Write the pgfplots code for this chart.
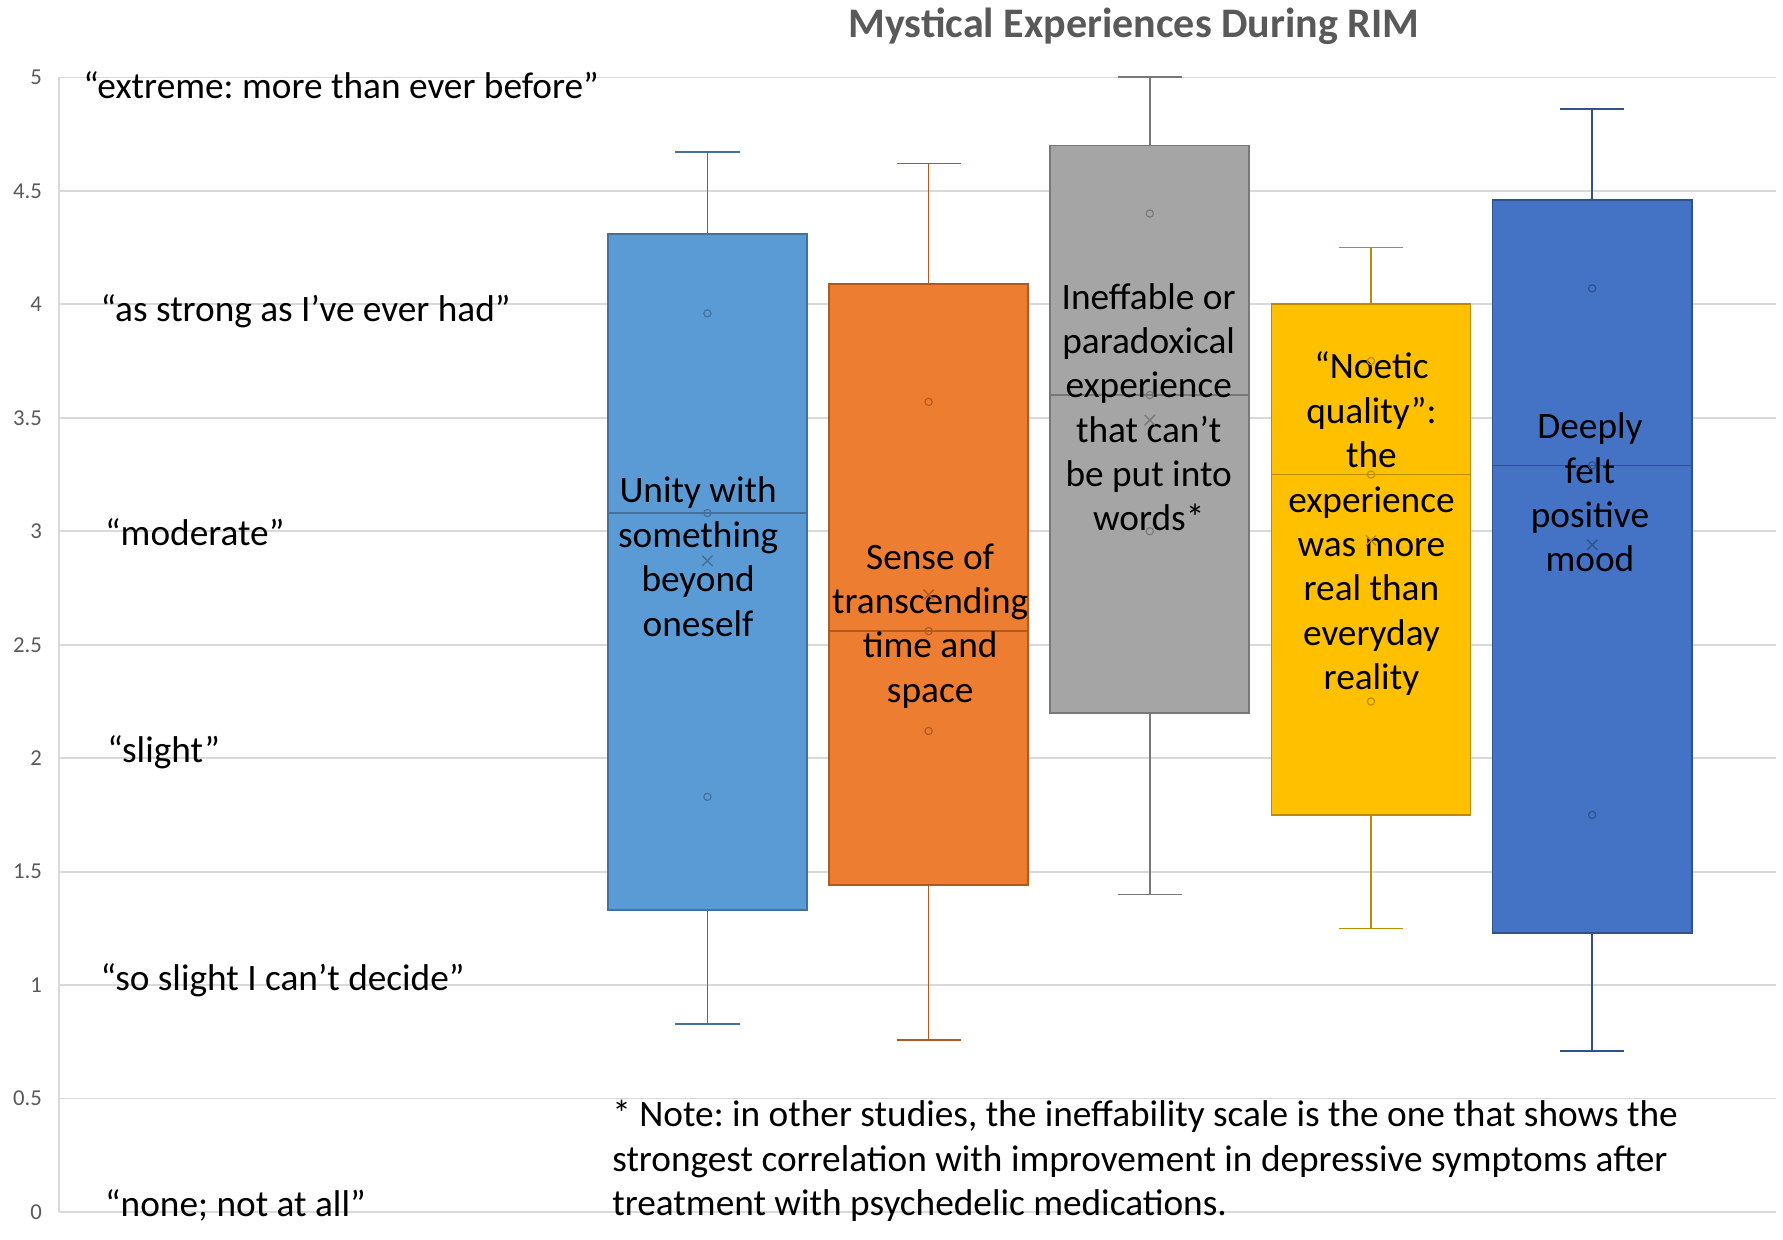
\documentclass[border=0pt]{standalone}
\usepackage{fontspec}
\setmainfont{Carlito}
\usepackage{pgfplots}
\pgfplotsset{compat=1.18}
\usepgfplotslibrary{statistics}
\definecolor{c1}{HTML}{5B9BD5}\definecolor{c1d}{HTML}{41719C}
\definecolor{c2}{HTML}{ED7D31}\definecolor{c2d}{HTML}{AE5A21}
\definecolor{c3}{HTML}{A5A5A5}\definecolor{c3d}{HTML}{787878}
\definecolor{c4}{HTML}{FFC000}\definecolor{c4d}{HTML}{BC8C00}
\definecolor{c5}{HTML}{4472C4}\definecolor{c5d}{HTML}{2F528F}
\definecolor{gridgray}{HTML}{D9D9D9}
\definecolor{tickgray}{HTML}{595959}
\frenchspacing
\begin{document}
\begin{tikzpicture}
\useasboundingbox (0,0) rectangle (784pt,545pt);
\begin{axis}[at={(26pt,12pt)}, anchor=south west, scale only axis,
  width=755pt, height=499pt,
  xmin=-1.931, xmax=5.832, ymin=0, ymax=5,
  axis x line=none, axis y line*=left,
  y axis line style={-, draw=gridgray, line width=0.7pt},
  xtick=\empty,
  ytick={0,0.5,1,1.5,2,2.5,3,3.5,4,4.5,5},
  yticklabels={0,0.5,1,1.5,2,2.5,3,3.5,4,4.5,5},
  major tick length=0pt, ymajorgrids,
  grid style={draw=gridgray, line width=0.7pt},
  yticklabel style={font=\fontsize{10}{12}\selectfont, text=tickgray, xshift=-4pt},
  clip=false,
  boxplot/draw direction=y,
  boxplot/box extend=0.9, boxplot/whisker extend=0.29]
% boxes
\addplot[boxplot prepared={draw position=1, lower whisker=0.83, lower quartile=1.33, median=3.08, upper quartile=4.31, upper whisker=4.67}, draw=c1d, fill=c1, line width=0.75pt] coordinates {};
\addplot[boxplot prepared={draw position=2, lower whisker=0.76, lower quartile=1.44, median=2.56, upper quartile=4.09, upper whisker=4.62}, draw=c2d, fill=c2, line width=0.75pt] coordinates {};
\addplot[boxplot prepared={draw position=3, lower whisker=1.40, lower quartile=2.20, median=3.60, upper quartile=4.70, upper whisker=5.00}, draw=c3d, fill=c3, line width=0.75pt] coordinates {};
\addplot[boxplot prepared={draw position=4, lower whisker=1.25, lower quartile=1.75, median=3.25, upper quartile=4.00, upper whisker=4.25}, draw=c4d, fill=c4, line width=0.75pt] coordinates {};
\addplot[boxplot prepared={draw position=5, lower whisker=0.71, lower quartile=1.23, median=3.29, upper quartile=4.46, upper whisker=4.86}, draw=c5d, fill=c5, line width=0.75pt] coordinates {};
% inner points
\addplot[only marks, mark=o, mark size=1.6pt, draw=c1d, line width=0.5pt] coordinates {(1,3.96) (1,3.08) (1,1.83)};
\addplot[only marks, mark=o, mark size=1.6pt, draw=c2d, line width=0.5pt] coordinates {(2,3.57) (2,2.56) (2,2.12)};
\addplot[only marks, mark=o, mark size=1.6pt, draw=c3d, line width=0.5pt] coordinates {(3,4.40) (3,3.60) (3,3.00)};
\addplot[only marks, mark=o, mark size=1.6pt, draw=c4d, line width=0.5pt] coordinates {(4,3.75) (4,3.25) (4,2.25)};
\addplot[only marks, mark=o, mark size=1.6pt, draw=c5d, line width=0.5pt] coordinates {(5,4.07) (5,3.29) (5,1.75)};
% means
\addplot[only marks, mark=x, mark size=3.2pt, draw=c1d, line width=0.6pt] coordinates {(1,2.87)};
\addplot[only marks, mark=x, mark size=3.2pt, draw=c2d, line width=0.6pt] coordinates {(2,2.72)};
\addplot[only marks, mark=x, mark size=3.2pt, draw=c3d, line width=0.6pt] coordinates {(3,3.49)};
\addplot[only marks, mark=x, mark size=3.2pt, draw=c4d, line width=0.6pt] coordinates {(4,2.96)};
\addplot[only marks, mark=x, mark size=3.2pt, draw=c5d, line width=0.6pt] coordinates {(5,2.94)};
% box texts
\begin{scope}[every node/.style={align=center, inner sep=0pt, font=\fontsize{16.4}{19.5}\selectfont}]
\node at (axis cs:0.958,2.888) {Unity with\\something\\beyond\\oneself};
\node at (axis cs:2.007,2.583) {Sense of\\transcending\\time and\\space};
\node at (axis cs:2.995,3.547) {Ineffable or\\paradoxical\\experience\\that can’t\\be put into\\words*};
\node at (axis cs:4.002,3.033) {“Noetic\\quality”:\\the\\experience\\was more\\real than\\everyday\\reality};
\node at (axis cs:4.990,3.171) {Deeply\\felt\\positive\\mood};
\end{scope}
% scale annotations
\begin{scope}[every node/.style={anchor=west, inner sep=0pt, font=\fontsize{16.4}{19.5}\selectfont}]
\node at (axis cs:-1.823,4.965) {“extreme: more than ever before”};
\node at (axis cs:-1.746,3.969) {“as strong as I’ve ever had”};
\node at (axis cs:-1.725,2.998) {“moderate”};
\node at (axis cs:-1.715,2.027) {“slight”};
\node at (axis cs:-1.746,1.021) {“so slight I can’t decide”};
\node at (axis cs:-1.725,0.030) {“none; not at all”};
\node[align=left] at (axis cs:0.568,0.225) {* Note: in other studies, the ineffability scale is the one that shows the\\strongest correlation with improvement in depressive symptoms after\\treatment with psychedelic medications.};
\end{scope}
\node[inner sep=0pt, font=\bfseries\fontsize{18.5}{22}\selectfont, text=tickgray] at (axis cs:2.928,5.225) {Mystical Experiences During RIM};
\end{axis}
\end{tikzpicture}
\end{document}
